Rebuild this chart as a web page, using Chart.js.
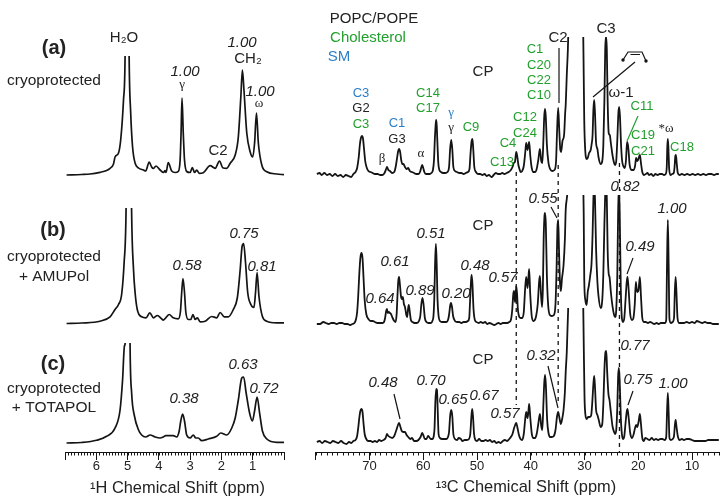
<!DOCTYPE html>
<html><head><meta charset="utf-8">
<script src="https://cdn.jsdelivr.net/npm/chart.js@4/dist/chart.umd.min.js"></script>
<style>html,body{margin:0;padding:0;background:#fff}canvas{position:absolute;top:0}#l{left:0}#r{left:310px}</style>
</head><body>
<canvas id="l" width="310" height="502"></canvas>
<canvas id="r" width="414" height="502"></canvas>
<script>
// ---------- 1H spectra: [ppm, intensity above baseline] ----------
const h1_a=[[6.95,0],[6.47,.5],[6.2,1],[5.88,2.7],[5.67,4.5],[5.56,6.7],[5.45,11],[5.4,18],[5.29,22],[5.22,35],[5.13,75],[5.08,118],[5.015,400],[4.95,118],[4.9,62],[4.84,28],[4.76,12],[4.65,7],[4.49,5],[4.42,4],[4.31,13],[4.23,8],[4.18,6.5],[4.09,9],[3.96,5],[3.85,2.5],[3.8,4.5],[3.77,2.5],[3.7,12.5],[3.59,4],[3.48,2.5],[3.38,3.5],[3.32,15],[3.29,42],[3.26,77],[3.22,42],[3.18,15],[3.11,3.5],[3,2.5],[2.93,7.5],[2.86,2.5],[2.79,5],[2.71,1.7],[2.58,2.3],[2.36,9.3],[2.2,6.7],[2.06,14],[1.96,7.3],[1.83,6.7],[1.72,11.7],[1.56,20],[1.46,38],[1.38,78],[1.33,105],[1.28,85],[1.19,42],[1.08,23],[1,18],[.94,32],[.88,62],[.82,32],[.71,10],[.55,3.3],[.23,1],[0,.3]];
const h1_b=[[6.95,0],[6.47,.5],[5.88,2.3],[5.56,6.7],[5.4,14],[5.29,19],[5.19,29],[5.11,61],[5.05,110],[4.96,400],[4.87,110],[4.81,54],[4.76,31],[4.69,14],[4.55,6.7],[4.41,5.7],[4.29,10.7],[4.17,5.7],[4.05,8],[3.91,4.7],[3.86,3.3],[3.78,5.7],[3.67,9],[3.54,5.7],[3.38,4.7],[3.31,12],[3.27,31],[3.23,45],[3.18,31],[3.14,12],[3.06,4],[2.98,4],[2.91,9],[2.84,4],[2.77,5.7],[2.68,1.7],[2.52,2.3],[2.31,7],[2.15,5.7],[2.04,11],[1.91,6.7],[1.78,6.7],[1.62,14],[1.49,26],[1.4,54],[1.34,77],[1.29,80],[1.23,61],[1.16,31],[1.06,19],[.96,16],[.91,31],[.86,51],[.8,27],[.69,7],[.55,2.3],[.23,.7],[0,.7]];
const h1_c=[[6.95,0],[6.47,.5],[5.99,2.7],[5.67,6.7],[5.4,15],[5.24,33],[5.16,63],[5.1,97],[5.07,102],[4.99,400],[4.92,97],[4.87,50],[4.78,27],[4.65,13],[4.55,8],[4.42,6],[4.28,8],[4.12,6],[3.96,5],[3.86,6],[3.78,7.3],[3.67,7.3],[3.54,7.3],[3.43,6],[3.35,12],[3.3,22],[3.24,29],[3.18,22],[3.11,8],[3,5],[2.9,8],[2.82,5],[2.74,5],[2.63,2.3],[2.42,4],[2.15,6.7],[2.02,10],[1.83,8],[1.67,15],[1.56,25],[1.46,43],[1.35,65],[1.29,66],[1.21,50],[1.1,30],[1.01,22],[.94,32],[.86,46],[.78,30],[.69,12],[.55,4],[.23,.7],[0,.7]];
// ---------- 13C spectra: [ppm, intensity above baseline] ----------
const c13_a=[[79.8,1],[79.3,2],[78.9,0],[78.4,2],[77.9,0],[77.4,1],[76.9,-1],[76.4,1],[75.9,-1],[75.4,0],[74.9,-2],[74.4,0],[73.9,-1],[73.4,-2],[73,1],[72.6,3],[72.3,7],[72,18],[71.8,30],[71.6,37],[71.4,39],[71.2,36],[71,25],[70.8,14],[70.5,7],[70.2,4],[69.8,3],[69.4,2],[69,1],[68.5,1],[68,0],[67.6,0],[67.2,2],[66.9,6],[66.75,8],[66.5,5],[66.2,4],[65.8,2],[65.4,3],[65.1,9],[64.9,16],[64.7,23],[64.5,26],[64.3,23],[64.1,15],[63.9,11],[63.7,11],[63.4,8],[63.1,6],[62.8,7],[62.5,4],[62.1,3],[61.7,2],[61.3,1],[60.9,1],[60.6,3],[60.4,7],[60.2,10],[60,7],[59.8,3],[59.5,1],[59.1,1],[58.8,1],[58.5,2],[58.2,5],[58,15],[57.85,35],[57.7,50],[57.6,55],[57.5,50],[57.35,30],[57.2,12],[57,5],[56.7,3],[56.3,2],[55.9,2],[55.5,3],[55.2,8],[55,26],[54.8,35],[54.6,26],[54.4,8],[54.1,4],[53.7,3],[53.3,2],[52.9,2],[52.5,1],[52.1,2],[51.7,3],[51.4,6],[51.2,22],[51,34],[50.85,36],[50.7,26],[50.5,8],[50.2,3],[49.8,1],[49.4,1],[49,0],[48.6,1],[48.2,-1],[47.8,0],[47.3,-2],[46.9,0],[46.5,2],[46.1,1],[45.7,1],[45.3,2],[44.9,1],[44.5,2],[44.1,3],[43.7,5],[43.4,8],[43.15,12],[42.95,13],[42.7,23],[42.5,18],[42.3,10],[42.1,6],[41.9,3],[41.6,4],[41.3,9],[41,24],[40.85,32],[40.6,25],[40.3,33],[40.1,20],[39.85,8],[39.5,3],[39.2,3],[38.9,6],[38.6,15],[38.3,26],[38.05,14],[37.85,12],[37.65,35],[37.5,58],[37.35,66],[37.2,58],[37,30],[36.7,12],[36.4,6],[36,4],[35.6,5],[35.3,13],[35.1,45],[34.9,67],[34.7,45],[34.5,25],[34.35,23],[34.1,34],[33.8,40],[33.6,62],[33.5,70],[33.3,100],[33.1,125],[33,145],[31.5,250],[30.25,145],[30.15,100],[30.05,55],[29.9,28],[29.6,16],[29.4,17],[29.15,22],[28.85,25],[28.7,30],[28.5,40],[28.35,65],[28.2,75],[28.05,62],[27.85,32],[27.6,26],[27.4,18],[27,11],[26.7,14],[26.5,30],[26.3,75],[26.15,125],[26,139],[25.85,125],[25.7,75],[25.5,42],[25.3,40],[25.1,32],[24.8,20],[24.5,12],[24.3,10],[24.1,14],[23.9,35],[23.7,62],[23.55,68],[23.4,58],[23.2,30],[23,14],[22.7,8],[22.5,7],[22.3,14],[22.15,28],[22.05,33],[21.85,27],[21.6,10],[21.2,5],[20.9,5],[20.6,9],[20.4,17],[20.2,14],[20.05,15],[19.7,20],[19.5,12],[19.25,3],[18.9,0],[18.6,1],[18.3,2],[18,0],[17.6,1],[17.2,-1],[16.8,1],[16.4,0],[16,1],[15.6,1],[15.2,0],[14.9,1],[14.7,8],[14.6,28],[14.5,36],[14.4,28],[14.25,6],[14,0],[13.7,1],[13.4,2],[13.25,8],[13.1,19],[13,20],[12.85,12],[12.65,2],[12.3,0],[11.9,1],[11.4,0],[10.9,1],[10.4,0],[9.9,1],[9.4,0],[8.9,1],[8.4,0],[7.9,1],[7.4,0],[6.9,1],[6.4,1],[5.9,0],[5.4,1],[5,1]];
const c13_b=[[79.8,0],[79.2,0],[78.6,2],[78.1,1],[77.6,0],[77.1,1],[76.6,1],[76.1,0],[75.6,1],[75.1,1],[74.6,0],[74.1,0],[73.6,-1],[73.2,0],[72.8,1],[72.5,5],[72.3,12],[72.1,28],[71.9,50],[71.7,66],[71.5,71],[71.3,66],[71.1,45],[70.9,24],[70.6,10],[70.2,5],[69.8,3],[69.4,3],[69,2],[68.5,1],[68,1],[67.6,1],[67.3,2],[67.1,6],[66.9,13],[66.75,15],[66.6,11],[66.4,12],[66.2,11],[66,10],[65.7,6],[65.4,3],[65.15,2],[64.95,10],[64.8,28],[64.65,43],[64.5,47],[64.35,40],[64.15,28],[63.95,25],[63.8,27],[63.6,20],[63.4,17],[63.15,9],[63,7],[62.85,14],[62.7,19],[62.55,14],[62.3,4],[62,2],[61.6,1],[61.2,1],[60.8,3],[60.55,8],[60.35,20],[60.15,26],[59.95,20],[59.7,6],[59.4,2],[59,1],[58.6,1],[58.3,3],[58.1,8],[57.95,25],[57.8,60],[57.65,80],[57.5,60],[57.35,25],[57.15,8],[56.9,3],[56.5,2],[56.1,2],[55.7,2],[55.4,4],[55.2,9],[55,18],[54.85,21],[54.65,17],[54.45,8],[54.1,3],[53.7,2],[53.3,2],[52.9,1],[52.5,2],[52.1,2],[51.7,3],[51.45,6],[51.3,22],[51.1,44],[51,49],[50.85,40],[50.65,15],[50.4,4],[50.1,2],[49.7,1],[49.3,2],[48.9,1],[48.5,2],[48.1,0],[47.7,1],[47.2,0],[46.8,-1],[46.4,0],[46,1],[45.6,0],[45.2,1],[44.8,1],[44.4,1],[44,2],[43.7,4],[43.45,14],[43.25,30],[43.1,33],[42.95,22],[42.85,24],[42.7,38],[42.55,30],[42.4,15],[42.2,8],[41.9,6],[41.6,6],[41.3,12],[41.05,35],[40.85,47],[40.6,36],[40.45,45],[40.3,55],[40.1,30],[39.8,7],[39.5,3],[39.25,4],[39,8],[38.7,20],[38.45,42],[38.3,48],[38.1,30],[37.9,17],[37.75,35],[37.6,85],[37.45,108],[37.35,111],[37.2,100],[37,48],[36.75,18],[36.45,9],[36.1,8],[35.7,9],[35.4,20],[35.2,55],[35.05,95],[34.9,104],[34.75,75],[34.55,40],[34.4,33],[34.2,45],[33.9,59],[33.65,85],[33.5,114],[33.3,125],[33,140],[31.5,250],[30.25,140],[30.15,110],[30.05,45],[29.85,24],[29.6,19],[29.4,32],[29.2,38],[28.9,50],[28.7,60],[28.5,90],[28.35,125],[28.2,140],[28.05,125],[27.85,75],[27.6,42],[27.4,28],[27,16],[26.7,24],[26.5,50],[26.3,100],[26.15,130],[26,140],[25.85,125],[25.7,75],[25.5,50],[25.35,47],[25.1,32],[24.8,18],[24.5,9],[24.3,7],[24.1,14],[23.9,50],[23.75,110],[23.6,140],[23.45,110],[23.25,35],[23.05,6],[22.85,2],[22.6,6],[22.35,26],[22.15,42],[22,47],[21.8,35],[21.5,10],[21.15,4],[20.9,6],[20.65,20],[20.45,42],[20.3,35],[20.15,32],[19.95,34],[19.7,47],[19.5,28],[19.25,6],[18.95,2],[18.6,2],[18.2,1],[17.8,2],[17.4,1],[17,0],[16.6,1],[16.2,0],[15.8,1],[15.4,1],[15,1],[14.8,4],[14.65,60],[14.5,104],[14.35,60],[14.2,5],[13.95,1],[13.6,2],[13.35,6],[13.2,32],[13.05,47],[12.9,32],[12.7,6],[12.4,1],[12,1],[11.5,1],[11,2],[10.5,1],[10,2],[9.5,1],[9.1,3],[8.6,2],[8.1,1],[7.6,2],[7.1,1],[6.6,1],[6.1,0],[5.6,0],[5,0]];
const c13_c=[[79.8,0],[79.3,1],[78.8,-1],[78.3,1],[77.8,0],[77.3,-1],[76.8,1],[76.3,0],[75.8,-1],[75.3,1],[74.8,-1],[74.3,-2],[73.8,0],[73.4,-1],[73,1],[72.6,2],[72.3,6],[72.1,14],[71.9,24],[71.7,31],[71.5,33],[71.3,30],[71.1,18],[70.9,8],[70.6,3],[70.2,1],[69.8,1],[69.4,0],[69,1],[68.6,0],[68.2,2],[67.8,1],[67.4,2],[67,4],[66.75,8],[66.5,6],[66.2,5],[65.8,4],[65.4,6],[65,12],[64.7,17],[64.5,19],[64.3,16],[64,11],[63.7,10],[63.4,10],[63.1,7],[62.8,5],[62.4,3],[62.1,4],[61.7,1],[61.3,1],[60.9,2],[60.5,5],[60.2,9],[60,7],[59.7,3],[59.4,3],[59.1,6],[58.9,5],[58.6,3],[58.3,3],[58.05,6],[57.9,14],[57.75,40],[57.6,53],[57.45,52],[57.3,30],[57.15,8],[56.9,4],[56.5,3],[56.1,3],[55.7,3],[55.4,5],[55.2,10],[55,26],[54.8,32],[54.6,26],[54.4,8],[54.1,3],[53.7,2],[53.4,4],[53,3],[52.7,1],[52.3,2],[51.9,2],[51.5,3],[51.25,8],[51.05,25],[50.9,33],[50.75,26],[50.55,8],[50.3,2],[50,1],[49.6,3],[49.2,1],[48.8,1],[48.4,2],[48,1],[47.6,2],[47.2,0],[46.8,1],[46.4,-1],[46,0],[45.6,-1],[45.2,1],[44.8,2],[44.4,1],[44,3],[43.7,5],[43.4,8],[43.1,14],[42.9,17],[42.7,19],[42.5,15],[42.2,7],[41.9,3],[41.6,2],[41.3,8],[41.05,22],[40.85,30],[40.6,24],[40.45,30],[40.3,38],[40.1,25],[39.8,8],[39.5,4],[39.2,4],[38.9,8],[38.6,18],[38.3,28],[38.05,16],[37.85,12],[37.65,38],[37.5,58],[37.35,67],[37.2,58],[36.95,22],[36.7,9],[36.4,5],[36.1,5],[35.7,6],[35.4,12],[35.1,26],[34.9,30],[34.7,25],[34.4,18],[34.2,22],[33.9,32],[33.65,50],[33.5,70],[33.3,90],[33,140],[31.5,250],[30.25,140],[30.15,100],[30,45],[29.85,28],[29.6,23],[29.3,25],[29,25],[28.75,27],[28.55,40],[28.35,58],[28.2,66],[28.05,55],[27.85,32],[27.6,27],[27.35,22],[27,15],[26.7,18],[26.5,38],[26.3,72],[26.1,90],[25.95,91],[25.8,72],[25.55,48],[25.35,42],[25.1,30],[24.8,16],[24.5,10],[24.3,8],[24.1,12],[23.9,35],[23.75,65],[23.6,74],[23.45,60],[23.25,25],[23.05,8],[22.85,3],[22.6,6],[22.35,20],[22.15,30],[22,33],[21.8,25],[21.5,9],[21.15,4],[20.85,8],[20.6,14],[20.4,17],[20.2,15],[19.95,20],[19.7,28],[19.5,18],[19.25,4],[18.95,1],[18.7,4],[18.3,3],[17.9,2],[17.5,4],[17.1,2],[16.7,3],[16.3,2],[15.9,3],[15.5,3],[15.1,2],[14.8,5],[14.65,30],[14.5,49],[14.35,30],[14.2,4],[13.95,2],[13.6,3],[13.35,6],[13.2,16],[13.05,22],[12.9,16],[12.65,6],[12.3,2],[11.9,3],[11.5,2],[11,3],[10.5,3],[10,2],[9.5,1],[9,1],[8.5,1],[8,1],[7.5,1],[7,2],[6.5,2],[6,2],[5.5,2],[5,2]];
// ---------- axis ticks ----------
const ticksH=[7,6,5,4,3,2,1,0];
const ticksC=[80,70,60,50,40,30,20,10];
const dashedPpm=[42.7,34.9,23.5];

// ---------- layout and styling (not data) ----------
const INK='#141414',TXT='#222222',GRN='#22a02e',BLU='#2a7fc8';
const SANS='"Liberation Sans",Arial,sans-serif',SERIF='"Liberation Serif",serif';
const F={n:'15px '+SANS,b:'bold 20px '+SANS,i:'italic 15px '+SANS,s:'13px '+SANS,g:'13px '+SERIF,c:'15.5px '+SANS,t:'16.4px '+SANS};
const AREA_BOTTOM=452;
const leftText=[
['(a)',54,48,F.b],['cryoprotected',54,81,F.c],['H₂O',124,38,F.n],['1.00',185,72,F.i],['γ',182,85,F.g],['1.00',242,43,F.i],['CH₂',248,59,F.n],['1.00',260,92,F.i],['ω',259,104,F.g],['C2',218,151,F.n],
['(b)',53,230,F.b],['cryoprotected',54,257,F.c],['+ AMUPol',54,277,F.c],['0.58',187,266,F.i],['0.75',244,234,F.i],['0.81',262,267,F.i],
['(c)',53,364,F.b],['cryoprotected',54,389,F.c],['+ TOTAPOL',54,408,F.c],['0.38',184,399,F.i],['0.63',243,365,F.i],['0.72',264,389,F.i],
['¹H Chemical Shift (ppm)',177.5,488,F.t]];
const rightText=[
['POPC/POPE',374,19,F.n],['Cholesterol',368,38,F.n,GRN],['SM',339,57,F.n,BLU],['CP',483,72,F.n],
['C3',361,93,F.s,BLU],['G2',361,108,F.s],['C3',361,124,F.s,GRN],['C1',397,123,F.s,BLU],['G3',397,139,F.s],['β',382,159,F.g],['α',421,154,F.g],
['C14',428,93,F.s,GRN],['C17',428,108,F.s,GRN],['γ',451,113,F.g,BLU],['γ',451,128,F.g],['C9',471,127,F.s,GRN],['C13',502,162,F.s,GRN],['C4',508,143,F.s,GRN],
['C1',535,49,F.s,GRN],['C20',539,65,F.s,GRN],['C22',539,80,F.s,GRN],['C10',539,95,F.s,GRN],['C12',525,117,F.s,GRN],['C24',525,133,F.s,GRN],
['C2',558,38,F.n],['C3',606,29,F.n],['ω-1',621,93,F.n],['C11',642,106,F.s,GRN],['C19',643,135,F.s,GRN],['C21',643,151,F.s,GRN],['*ω',666,129,F.g],['C18',682,147,F.s,GRN],
['CP',483,226,F.n],['0.51',431,234,F.i],['0.61',395,262,F.i],['0.64',380,299,F.i],['0.89',420,291,F.i],['0.20',456,294,F.i],['0.48',475,266,F.i],['0.57',503,278,F.i],['0.55',543,199,F.i],['0.82',625,187,F.i],['0.49',640,247,F.i],['1.00',672,209,F.i],
['CP',483,360,F.n],['0.48',383,383,F.i],['0.70',431,381,F.i],['0.65',453,400,F.i],['0.67',484,396,F.i],['0.57',505,414,F.i],['0.32',541,356,F.i],['0.77',635,346,F.i],['0.75',638,380,F.i],['1.00',673,384,F.i],
['¹³C Chemical Shift (ppm)',526,487,F.t]];
const rightLeaders=[
[559,48,559,103,INK],[635,62,593,97,INK],[638,116,627,141,GRN],
[551,207,557,218,INK],[633,258,627,274,INK],
[394,394,400,419,INK],[548,366,558,408,INK],[633,391,628,405,INK]];
const dashSpans=[[172,405],[165,405],[163,452]];

function traces(list,yIds,clips,w){
  return list.map((d,i)=>({data:d.map(p=>({x:p[0],y:p[1]})),yAxisID:yIds[i],borderColor:INK,borderWidth:w,pointRadius:0,cubicInterpolationMode:'monotone',
    clip:{left:0,right:0,bottom:0,top:-clips[i]}}));
}
function yScales(bases){
  const o={};
  bases.forEach((b,i)=>{o['y'+i]={type:'linear',display:false,min:b-AREA_BOTTOM,max:b};});
  return o;
}
function textPlugin(list,dx,minorStep,extra){
  return {id:'notes',afterDraw(ch){
    const c=ch.ctx,x=ch.scales.x,bot=ch.chartArea.bottom;
    c.save();
    c.strokeStyle=INK;c.lineWidth=1;
    const lo=x.min,hi=x.max,n=Math.round((hi-lo)/minorStep);
    c.beginPath();
    for(let i=0;i<=n;i++){const px=Math.round(x.getPixelForValue(lo+i*minorStep))+.5;c.moveTo(px,bot);c.lineTo(px,bot+3.5);}
    c.stroke();
    if(extra)extra(c,x,dx);
    c.textAlign='center';c.textBaseline='middle';
    list.forEach(t=>{c.font=t[3];c.fillStyle=t[4]||TXT;c.fillText(t[0],t[1]-dx,t[2]);});
    c.restore();
  }};
}
function xScale(min,max,ticks){
  return {type:'linear',reverse:true,min,max,position:'bottom',
    afterBuildTicks:s=>{s.ticks=ticks.map(v=>({value:v}));},
    afterFit:s=>{s.height=50;},
    grid:{drawOnChartArea:false,drawTicks:true,tickLength:8,color:INK,lineWidth:1},
    border:{display:true,color:INK,width:1},
    ticks:{autoSkip:false,maxRotation:0,padding:-1,color:TXT,font:{family:'"Liberation Sans"',size:13},
      callback:v=>(v===min||v===max)?'':String(v)}};
}
const base={animation:false,responsive:false,plugins:{legend:{display:false},tooltip:{enabled:false}}};

new Chart(document.getElementById('l'),{type:'line',
  data:{datasets:traces([h1_a,h1_b,h1_c],['y0','y1','y2'],[56,208,343],1.7)},
  options:{...base,layout:{padding:{left:65,right:26,top:0,bottom:0}},
    scales:{x:xScale(0,7,ticksH),...yScales([175,323.5,443])}},
  plugins:[textPlugin(leftText,0,.1)]});

new Chart(document.getElementById('r'),{type:'line',
  data:{datasets:traces([c13_a,c13_b,c13_c],['y0','y1','y2'],[37,195,308],1.8)},
  options:{...base,layout:{padding:{left:5.75,right:5.1,top:0,bottom:0}},
    scales:{x:xScale(5,80,ticksC),...yScales([175,324,442])}},
  plugins:[textPlugin(rightText,310,1,(c,x,dx)=>{
    c.save();c.setLineDash([4,4]);c.lineWidth=1.3;
    dashedPpm.forEach((p,i)=>{const px=x.getPixelForValue(p);c.beginPath();c.moveTo(px,dashSpans[i][0]);c.lineTo(px,dashSpans[i][1]);c.stroke();});
    c.restore();
    c.lineWidth=1.2;
    rightLeaders.forEach(l=>{c.strokeStyle=l[4];c.beginPath();c.moveTo(l[0]-dx,l[1]);c.lineTo(l[2]-dx,l[3]);c.stroke();});
    // alkene glyph
    c.strokeStyle=INK;c.fillStyle=INK;c.lineWidth=1.2;
    c.beginPath();c.moveTo(623-dx,60);c.lineTo(628-dx,52);c.lineTo(642-dx,52);c.lineTo(646-dx,61);
    c.moveTo(630.5-dx,54.5);c.lineTo(640-dx,54.5);c.stroke();
    [[623,60],[646,61]].forEach(p=>{c.beginPath();c.arc(p[0]-dx,p[1],1.7,0,7);c.fill();});
  })]});
</script>
</body></html>
